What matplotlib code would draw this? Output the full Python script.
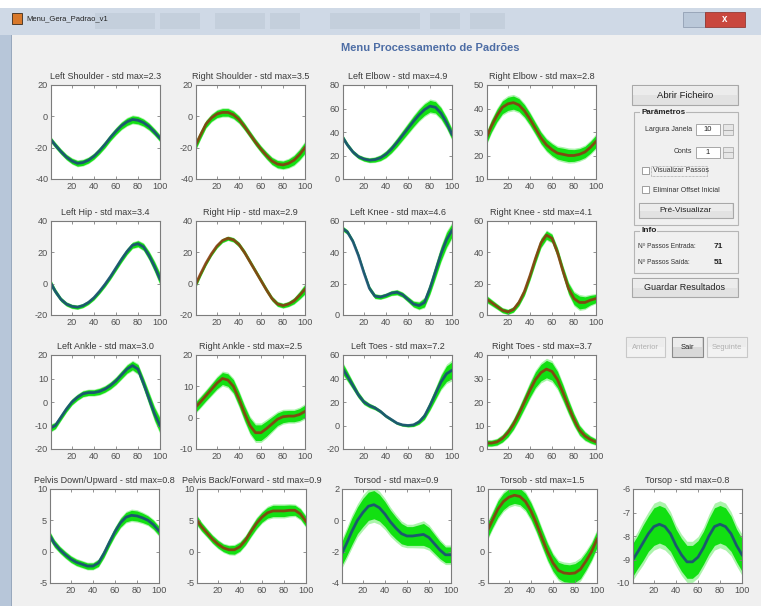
import numpy as np
import matplotlib.pyplot as plt
from matplotlib.patches import Rectangle

plt.rcParams['font.family'] = ['Liberation Sans', 'DejaVu Sans']
plt.rcParams['axes.unicode_minus'] = False

W, H = 761, 606

# gait cycle (%) sample points
pct = [1, 5, 10, 15, 20, 25, 30, 35, 40, 45, 50, 55, 60, 65, 70, 75, 80, 85, 90, 95, 100]

left_shoulder = [-15, -18.5, -22.5, -26, -28.5, -30, -29.5, -28, -25.5, -22, -18, -13.5, -9.5, -6, -3.5, -2, -2.5, -4, -6.5, -10, -14]
left_shoulder_std = [1.6, 1.6, 1.6, 1.6, 1.7, 1.8, 1.8, 1.8, 1.8, 1.9, 2.0, 2.0, 2.1, 2.2, 2.3, 2.3, 2.3, 2.2, 2.1, 2.0, 2.0]
right_shoulder = [-18, -12, -5, -1, 1.5, 2.5, 2.5, 1, -2, -6.5, -11.5, -16.5, -21, -25, -28.5, -30.5, -31, -30, -28, -24.5, -20]
right_shoulder_std = [2.6, 2.4, 2.2, 2.2, 2.3, 2.4, 2.4, 2.3, 2.2, 2.1, 2.0, 2.0, 2.0, 2.1, 2.2, 2.3, 2.4, 2.6, 2.9, 3.2, 3.5]
left_elbow = [35, 29, 23, 19, 17, 16, 16.5, 18, 21, 25.5, 31, 37, 43, 49, 54.5, 59, 62, 61, 56, 48, 38]
left_elbow_std = [2.0, 1.8, 1.6, 1.6, 1.7, 1.8, 2.0, 2.3, 2.7, 3.1, 3.5, 3.8, 4.1, 4.4, 4.6, 4.8, 4.9, 4.8, 4.6, 4.4, 4.2]
right_elbow = [28, 32.5, 37, 40.5, 42, 42.5, 41.5, 39, 35.5, 31.5, 27.5, 24.5, 22.5, 21, 20.5, 20, 20, 20.5, 21.5, 23.5, 26]
right_elbow_std = [2.4, 2.5, 2.6, 2.7, 2.8, 2.8, 2.7, 2.6, 2.5, 2.4, 2.4, 2.4, 2.5, 2.5, 2.6, 2.6, 2.5, 2.4, 2.4, 2.5, 2.6]

left_hip = [0, -5, -10, -13, -14.5, -15, -14, -12, -9, -5, -0.5, 4.5, 10, 15.5, 20.5, 24.5, 25.5, 23.5, 18, 11, 3]
left_hip_std = [2.0, 1.6, 1.3, 1.2, 1.2, 1.2, 1.2, 1.2, 1.3, 1.4, 1.5, 1.6, 1.7, 1.8, 1.8, 1.8, 1.9, 2.1, 2.5, 3.0, 3.4]
right_hip = [0, 6, 13, 19, 24, 27.5, 29, 28, 25, 20, 14, 8, 2, -4, -9.5, -13, -14, -13, -11, -7.5, -3.5]
right_hip_std = [1.8, 1.5, 1.3, 1.2, 1.2, 1.2, 1.2, 1.3, 1.4, 1.5, 1.5, 1.5, 1.5, 1.5, 1.4, 1.4, 1.4, 1.5, 1.8, 2.3, 2.9]
left_knee = [55, 53, 47, 38, 27, 17, 12, 11.5, 12.5, 14, 14.5, 13, 10, 7, 6, 8, 17, 28, 39, 48, 54]
left_knee_std = [1.4, 1.3, 1.3, 1.4, 1.5, 1.5, 1.4, 1.3, 1.3, 1.4, 1.5, 1.5, 1.6, 1.8, 2.2, 2.8, 3.4, 4.0, 4.4, 4.6, 4.2]
right_knee = [10, 8, 5.5, 3, 2, 3.5, 8, 15, 25, 36, 46, 51, 49, 40, 28, 17, 10.5, 8, 8, 9.5, 10.5]
right_knee_std = [2.0, 1.8, 1.6, 1.5, 1.5, 1.6, 1.9, 2.3, 2.6, 2.8, 2.8, 2.6, 2.5, 2.7, 3.0, 3.4, 3.8, 4.1, 3.6, 3.0, 2.6]

left_ankle = [-11, -10, -6.5, -3, 0, 2, 3.5, 4, 4, 4.5, 5.5, 7, 9, 11.5, 14, 15.5, 14, 8, 1.5, -5, -10]
left_ankle_std = [1.4, 1.3, 1.2, 1.2, 1.2, 1.2, 1.2, 1.2, 1.2, 1.3, 1.3, 1.4, 1.5, 1.6, 1.7, 1.8, 1.9, 2.1, 2.4, 2.7, 3.0]
right_ankle = [3.5, 5, 7, 9, 11, 12.5, 12, 10, 6, 1.5, -2.5, -4.8, -4.8, -3.5, -2, -0.5, 0.3, 0.5, 0.5, 1, 2]
right_ankle_std = [1.6, 1.6, 1.6, 1.7, 1.8, 1.9, 2.0, 2.1, 2.2, 2.3, 2.4, 2.5, 2.5, 2.4, 2.2, 2.0, 1.9, 1.8, 1.8, 1.9, 2.0]
left_toes = [48, 42, 34, 26, 20, 17, 15, 12, 8, 5, 2, 0.5, 0, 0.5, 3, 8, 17, 27, 37, 44, 47]
left_toes_std = [4.5, 3.8, 3.0, 2.4, 2.0, 1.7, 1.5, 1.3, 1.2, 1.1, 1.0, 1.0, 1.1, 1.3, 1.8, 2.6, 3.6, 4.6, 5.6, 6.6, 7.2]
right_toes = [2.5, 2.5, 3, 4.5, 7, 10.5, 15, 20, 25, 29.5, 32.5, 34, 33, 29.5, 24, 18, 12.5, 8, 5.5, 4, 3]
right_toes_std = [1.2, 1.2, 1.3, 1.5, 1.8, 2.1, 2.4, 2.7, 3.0, 3.3, 3.5, 3.7, 3.7, 3.5, 3.2, 2.8, 2.4, 2.0, 1.7, 1.4, 1.2]

pelvis_down = [2.5, 1.3, 0.3, -0.5, -1.2, -1.7, -2, -2.3, -2.3, -1.8, -0.3, 1.5, 3.2, 4.6, 5.5, 5.8, 5.7, 5.4, 5, 4.3, 3.3]
pelvis_down_std = [0.6, 0.55, 0.5, 0.5, 0.5, 0.5, 0.5, 0.5, 0.5, 0.55, 0.6, 0.6, 0.65, 0.7, 0.75, 0.8, 0.8, 0.75, 0.7, 0.7, 0.7]
pelvis_back = [5, 4, 3, 2, 1.2, 0.6, 0.3, 0.3, 0.8, 1.8, 3.2, 4.5, 5.5, 6.2, 6.5, 6.5, 6.5, 6.6, 6.6, 6, 4.8]
pelvis_back_std = [0.7, 0.65, 0.6, 0.6, 0.6, 0.6, 0.65, 0.7, 0.7, 0.7, 0.75, 0.8, 0.8, 0.85, 0.9, 0.9, 0.9, 0.85, 0.8, 0.8, 0.8]
torso_d = [-2.1, -1.5, -0.7, 0, 0.5, 0.9, 1, 0.8, 0.4, -0.1, -0.5, -0.85, -1, -1, -0.95, -0.9, -1.1, -1.5, -1.9, -2.2, -2.2]
torso_d_std = [0.75, 0.8, 0.85, 0.85, 0.9, 0.9, 0.9, 0.85, 0.8, 0.75, 0.7, 0.65, 0.6, 0.6, 0.65, 0.7, 0.65, 0.6, 0.55, 0.5, 0.5]
torso_b = [3.5, 5, 6.8, 8, 8.7, 9, 8.8, 8, 6.5, 4.5, 2.2, 0, -1.8, -3, -3.4, -3.5, -3.4, -2.8, -1.5, 0, 2]
torso_b_std = [1.2, 1.2, 1.3, 1.3, 1.3, 1.3, 1.3, 1.3, 1.3, 1.3, 1.3, 1.3, 1.3, 1.3, 1.4, 1.4, 1.5, 1.5, 1.4, 1.3, 1.3]
torso_p = [-9, -8.7, -8.3, -7.9, -7.6, -7.5, -7.6, -7.9, -8.4, -8.8, -9.1, -9.1, -8.9, -8.5, -8, -7.6, -7.5, -7.6, -7.9, -8.4, -8.8]
torso_p_std = [0.7, 0.7, 0.75, 0.75, 0.8, 0.8, 0.8, 0.75, 0.7, 0.7, 0.7, 0.7, 0.7, 0.7, 0.75, 0.8, 0.8, 0.8, 0.75, 0.7, 0.7]

titles = [
    "Left Shoulder - std max=2.3", "Right Shoulder - std max=3.5", "Left Elbow - std max=4.9", "Right Elbow - std max=2.8",
    "Left Hip - std max=3.4", "Right Hip - std max=2.9", "Left Knee - std max=4.6", "Right Knee - std max=4.1",
    "Left Ankle - std max=3.0", "Right Ankle - std max=2.5", "Left Toes - std max=7.2", "Right Toes - std max=3.7",
    "Pelvis Down/Upward - std max=0.8", "Pelvis Back/Forward - std max=0.9", "Torsod - std max=0.9",
    "Torsob - std max=1.5", "Torsop - std max=0.8",
]
means = [left_shoulder, right_shoulder, left_elbow, right_elbow,
         left_hip, right_hip, left_knee, right_knee,
         left_ankle, right_ankle, left_toes, right_toes,
         pelvis_down, pelvis_back, torso_d, torso_b, torso_p]
stds = [left_shoulder_std, right_shoulder_std, left_elbow_std, right_elbow_std,
        left_hip_std, right_hip_std, left_knee_std, right_knee_std,
        left_ankle_std, right_ankle_std, left_toes_std, right_toes_std,
        pelvis_down_std, pelvis_back_std, torso_d_std, torso_b_std, torso_p_std]
yticks = [[-40, -20, 0, 20], [-40, -20, 0, 20], [0, 20, 40, 60, 80], [10, 20, 30, 40, 50],
          [-20, 0, 20, 40], [-20, 0, 20, 40], [0, 20, 40, 60], [0, 20, 40, 60],
          [-20, -10, 0, 10, 20], [-10, 0, 10, 20], [-20, 0, 20, 40, 60], [0, 10, 20, 30, 40],
          [-5, 0, 5, 10], [-5, 0, 5, 10], [-4, -2, 0, 2], [-5, 0, 5, 10], [-10, -9, -8, -7, -6]]
side = ['L', 'R', 'L', 'R', 'L', 'R', 'L', 'R', 'L', 'R', 'L', 'R', 'L', 'R', 'L', 'R', 'L']

# axes boxes in pixels (left, top)
col_left = [51, 196, 343, 487]
row_top = [85, 221, 355, 489]
last_row_left = [50, 197, 342, 488, 633]
ax_w, ax_h = 109, 94

BG = '#f0f0f0'
GREEN = '#12e012'
LINE_L = '#1d4c78'
LINE_R = '#8a3c12'

fig = plt.figure(figsize=(W / 100, H / 100), dpi=100, facecolor=BG)


def fig_rect(x, y, w, h, **kw):
    fig.add_artist(Rectangle((x / W, 1 - (y + h) / H), w / W, h / H,
                             transform=fig.transFigure, **kw))


def fig_text(x, y, s, **kw):
    fig.text(x / W, 1 - y / H, s, **kw)


def button(x, y, w, h, label, size=6.3, color='#202020', face='#e2e2e2', edge='#a8a8a8'):
    fig_rect(x, y, w, h, fc=face, ec=edge, lw=0.8)
    fig_rect(x + 1, y + 1, w - 2, h / 2 - 1, fc='#ececec', ec='none')
    fig_text(x + w / 2, y + h / 2 + 0.5, label, ha='center', va='center', fontsize=size, color=color)


# window chrome
fig_rect(0, 0, W, 8, fc='white', ec='none')
fig_rect(0, 8, W, 27, fc='#cfd9e6', ec='none')
for bx, bw in [(95, 60), (160, 40), (215, 50), (270, 30), (330, 50), (380, 40), (430, 30), (470, 35)]:
    fig_rect(bx, 13, bw, 16, fc='#7f8c9d', ec='none', alpha=0.13)
fig_rect(0, 35, 11, H - 35, fc='#b7c6d9', ec='none')
fig_rect(11, 35, 1, H - 35, fc='#98a8bd', ec='none')
fig_rect(12, 13, 10, 11, fc='#d8782a', ec='#3a2a1a', lw=0.6)
fig_text(26, 19, "Menu_Gera_Padrao_v1", fontsize=5.5, color='#222222', va='center')
fig_rect(683, 12, 22, 15, fc='#bac8d9', ec='#8896aa', lw=0.5)
fig_rect(705, 12, 40, 15, fc='#c9473d', ec='#8a2a22', lw=0.5)
fig_text(725, 19.5, "x", fontsize=7, color='white', ha='center', va='center', fontweight='bold')

fig_text(430, 48, "Menu Processamento de Padrões", fontsize=8, color='#4d6da5',
         ha='center', va='center', fontweight='bold')

x = np.asarray(pct, dtype=float)
for i in range(len(titles)):
    if i < 12:
        left, top = col_left[i % 4], row_top[i // 4]
    else:
        left, top = last_row_left[i - 12], row_top[3]
    ax = fig.add_axes([left / W, 1 - (top + ax_h) / H, ax_w / W, ax_h / H])
    m = np.asarray(means[i], dtype=float)
    s = np.asarray(stds[i], dtype=float)
    ax.fill_between(x, m - s * 1.25, m + s * 1.25, color=GREEN, alpha=0.35, lw=0)
    ax.fill_between(x, m - s, m + s, color=GREEN, lw=0)
    ax.plot(x, m, color=LINE_L if side[i] == 'L' else LINE_R, lw=2.0, alpha=0.9)
    ax.set_xlim(1, 100)
    ax.set_ylim(yticks[i][0], yticks[i][-1])
    ax.set_xticks([20, 40, 60, 80, 100])
    ax.set_yticks(yticks[i])
    ax.tick_params(direction='in', length=2.5, width=0.6, top=True, right=True,
                   labelsize=6.6, labelcolor='#505050', color='#808080', pad=2)
    for sp in ax.spines.values():
        sp.set_color('#7c7c7c')
        sp.set_linewidth(0.8)
    ax.set_title(titles[i], fontsize=6.5, color='#3a3a3a', pad=4.5)

# control panel on the right
button(632, 85, 106, 20, "Abrir Ficheiro", size=6.8)

fig_rect(634, 112, 104, 113, fc='none', ec='#b5b5b5', lw=0.8)
fig_text(641, 112, "Parâmetros", fontsize=5.8, fontweight='bold', color='#222222', va='center',
         bbox=dict(fc=BG, ec='none', pad=0.5))
fig_text(692, 129.5, "Largura Janela", fontsize=5, color='#333333', ha='right', va='center')
fig_rect(696, 124, 24, 11, fc='white', ec='#9a9a9a', lw=0.6)
fig_text(708, 129.5, "10", fontsize=5.5, color='#222222', ha='center', va='center')
fig_text(692, 152, "Conts", fontsize=5, color='#333333', ha='right', va='center')
fig_rect(696, 147, 24, 11, fc='white', ec='#9a9a9a', lw=0.6)
fig_text(708, 152.5, "1", fontsize=5.5, color='#222222', ha='center', va='center')
for sy in (124, 147):
    fig_rect(723, sy, 10, 5.5, fc='#e6e6e6', ec='#a0a0a0', lw=0.5)
    fig_rect(723, sy + 5.5, 10, 5.5, fc='#e6e6e6', ec='#a0a0a0', lw=0.5)

fig_rect(642, 167, 7, 7, fc='white', ec='#8f8f8f', lw=0.6)
fig_text(653, 171, "Visualizar Passos", fontsize=5, color='#333333', va='center')
fig_rect(651, 166, 56, 10, fc='none', ec='#8a8a8a', lw=0.5, ls=(0, (1, 1)))
fig_rect(642, 186, 7, 7, fc='white', ec='#8f8f8f', lw=0.6)
fig_text(653, 190, "Eliminar Offset Inicial", fontsize=5, color='#333333', va='center')
button(639, 203, 94, 15, "Pré-Visualizar", size=6)

fig_rect(634, 231, 104, 42, fc='none', ec='#b5b5b5', lw=0.8)
fig_text(641, 231, "Info", fontsize=6, fontweight='bold', color='#222222', va='center',
         bbox=dict(fc=BG, ec='none', pad=0.5))
fig_text(638, 247, "Nº Passos Entrada:", fontsize=4.8, color='#333333', va='center')
fig_text(718, 247, "71", fontsize=6, fontweight='bold', color='#222222', ha='center', va='center')
fig_text(638, 263, "Nº Passos Saída:", fontsize=4.8, color='#333333', va='center')
fig_text(718, 263, "51", fontsize=6, fontweight='bold', color='#222222', ha='center', va='center')

button(632, 278, 106, 19, "Guardar Resultados", size=6.5)

button(626, 337, 39, 20, "Anterior", size=5.5, color='#b0b0b0', face='#f2f2f2', edge='#c8c8c8')
button(672, 337, 31, 20, "Sair", size=5.5, color='#202020', face='#d9d9d9', edge='#8a8a8a')
button(707, 337, 40, 20, "Seguinte", size=5.5, color='#b0b0b0', face='#f2f2f2', edge='#c8c8c8')

fig.savefig("out.png", dpi=100, facecolor=BG)
